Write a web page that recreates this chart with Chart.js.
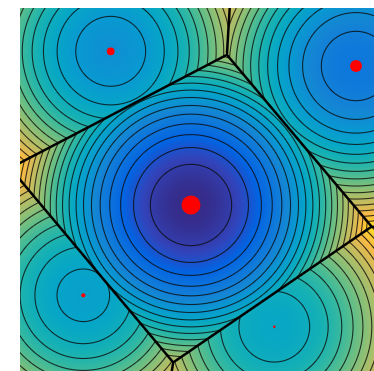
<!DOCTYPE html>
<html>
<head>
<meta charset="utf-8">
<script src="https://cdn.jsdelivr.net/npm/chart.js@4/dist/chart.umd.min.js"></script>
<style>
  html, body { margin: 0; padding: 0; background: #fff; }
  #wrap { width: 374px; height: 371px; }
</style>
</head>
<body>
<div id="wrap"><canvas id="powerChart"></canvas></div>
<script>
// sites of the weighted (power) diagram, in data units
const siteX = [1.71, 3.36, 0.907, 0.633, 2.543];
const siteY = [1.66, 3.05, 3.197, 0.757, 0.443];
const siteWeight = [1.39, 0.685, 0.357, 0.139, 0.03];

// field f = |p - site|^2 - weight, contoured every contourStep
const contourStep = 0.165;
const colorMin = -1.39;
const colorMax = 2.16;

// parula, every 4th entry of the 64 colour table
const parula = [
  [0.2081, 0.1663, 0.5292], [0.1959, 0.2645, 0.7279], [0.0117, 0.3875, 0.8820],
  [0.0498, 0.4586, 0.8641], [0.0793, 0.5200, 0.8312], [0.0343, 0.5966, 0.8199],
  [0.0228, 0.6535, 0.7768], [0.0843, 0.6928, 0.7062], [0.2178, 0.7250, 0.6193],
  [0.3953, 0.7459, 0.5244], [0.5709, 0.7485, 0.4494], [0.7184, 0.7411, 0.3905],
  [0.8507, 0.7299, 0.3360], [0.9739, 0.7314, 0.2666], [0.9880, 0.8066, 0.1794],
  [0.9589, 0.8949, 0.1132], [0.9763, 0.9831, 0.0538]
];
const parulaPos = [0, 4, 8, 12, 16, 20, 24, 28, 32, 36, 40, 44, 48, 52, 56, 60, 63].map(i => i / 63);

function colormap(t) {
  t = Math.min(1, Math.max(0, t));
  let k = 0;
  while (k < parulaPos.length - 2 && t > parulaPos[k + 1]) k++;
  const a = (t - parulaPos[k]) / (parulaPos[k + 1] - parulaPos[k]);
  const c0 = parula[k], c1 = parula[k + 1];
  return [0, 1, 2].map(i => 255 * (c0[i] + (c1[i] - c0[i]) * a));
}

const fieldPlugin = {
  id: 'powerField',
  beforeDatasetsDraw(chart) {
    const { ctx, chartArea, scales } = chart;
    const xs = scales.x, ys = scales.y;
    const w = Math.ceil(chartArea.right - chartArea.left);
    const h = Math.ceil(chartArea.bottom - chartArea.top);
    const ppu = Math.abs(xs.getPixelForValue(1) - xs.getPixelForValue(0));
    const off = document.createElement('canvas');
    off.width = w; off.height = h;
    const octx = off.getContext('2d');
    const img = octx.createImageData(w, h);
    const n = siteX.length;
    const f = new Array(n);

    for (let j = 0; j < h; j++) {
      const vy = ys.getValueForPixel(chartArea.top + j + 0.5);
      for (let i = 0; i < w; i++) {
        const vx = xs.getValueForPixel(chartArea.left + i + 0.5);
        let a = 0, b = -1;
        for (let s = 0; s < n; s++) {
          const dx = vx - siteX[s], dy = vy - siteY[s];
          f[s] = dx * dx + dy * dy - siteWeight[s];
          if (f[s] < f[a]) a = s;
        }
        for (let s = 0; s < n; s++) {
          if (s !== a && (b < 0 || f[s] < f[b])) b = s;
        }
        const v = f[a];
        let col = colormap((v - colorMin) / (colorMax - colorMin));

        // thin contour lines
        const r = Math.hypot(vx - siteX[a], vy - siteY[a]);
        const lv = (v - colorMin) / contourStep;
        const dv = Math.abs(lv - Math.round(lv)) * contourStep;
        const dc = r > 1e-6 ? dv / (2 * r) * ppu : 99;
        const ac = Math.max(0, Math.min(1, 1.05 - dc)) * 0.8;
        col = col.map(c => c * (1 - ac) + 10 * ac);

        // cell boundaries
        const sep = Math.hypot(siteX[a] - siteX[b], siteY[a] - siteY[b]);
        const db = (f[b] - v) / (2 * sep) * ppu;
        const ab = Math.max(0, Math.min(1, 1.75 - db));
        col = col.map(c => c * (1 - ab));

        const p = (j * w + i) * 4;
        img.data[p] = col[0];
        img.data[p + 1] = col[1];
        img.data[p + 2] = col[2];
        img.data[p + 3] = 255;
      }
    }
    octx.putImageData(img, 0, 0);
    ctx.save();
    ctx.drawImage(off, chartArea.left, chartArea.top);
    ctx.restore();
  }
};

const maxWeight = Math.max(...siteWeight);

new Chart(document.getElementById('powerChart'), {
  type: 'scatter',
  data: {
    datasets: [{
      data: siteX.map((x, i) => ({ x: x, y: siteY[i] })),
      backgroundColor: '#ff0000',
      borderWidth: 0,
      clip: false,
      pointRadius: (c) => Math.max(1.2, 9.5 * Math.pow(siteWeight[c.dataIndex] / maxWeight, 0.66))
    }]
  },
  options: {
    responsive: true,
    maintainAspectRatio: false,
    animation: false,
    events: [],
    layout: { autoPadding: false, padding: { left: 20, top: 8, right: 0, bottom: 0 } },
    scales: {
      x: { type: 'linear', min: 0, max: 3.54, display: false },
      y: { type: 'linear', min: 0, max: 3.63, display: false }
    },
    plugins: {
      legend: { display: false },
      tooltip: { enabled: false }
    }
  },
  plugins: [fieldPlugin]
});
</script>
</body>
</html>
